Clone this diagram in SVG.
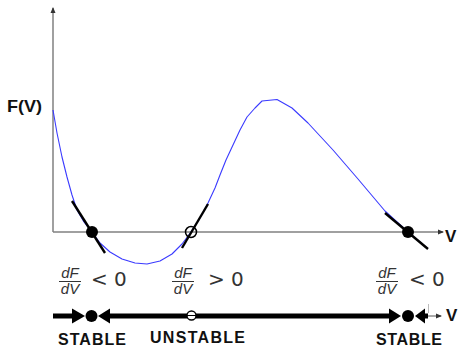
<svg xmlns="http://www.w3.org/2000/svg" width="459" height="347" viewBox="0 0 459 347">
<style>
.axis{stroke:#808080;stroke-width:1.5;fill:none}
.curve{stroke:#3a3aff;stroke-width:1.1;fill:none;stroke-linejoin:round}
.tan{stroke:#000;stroke-width:2.4;fill:none}
.frac{font-family:"Liberation Sans",Arial,sans-serif;font-style:italic;font-size:15px;fill:#333}
.rel{font-family:"DejaVu Sans","Liberation Sans",sans-serif;font-size:20px;fill:#333}
.lbl{font-family:"Liberation Sans",Arial,sans-serif;font-weight:bold;font-size:16px;fill:#111}
.ax{font-family:"Liberation Sans",Arial,sans-serif;font-weight:bold;font-size:17px;fill:#111}
.bar{stroke:#333;stroke-width:1}
.thick{stroke:#000;stroke-width:5;fill:none}
</style>
<defs>
<marker id="axArrow" viewBox="0 0 6 6" refX="5" refY="3" markerWidth="6" markerHeight="6" markerUnits="userSpaceOnUse" orient="auto">
<path d="M0,0.5 L6,3 L0,5.5 z" fill="#333"/>
</marker>
</defs>
<g id="axes">
<line class="axis" x1="53" y1="232" x2="53" y2="8" marker-end="url(#axArrow)"/>
<line class="axis" x1="53" y1="232" x2="443" y2="232" marker-end="url(#axArrow)"/>
<text class="ax" x="7" y="112" font-size="19" textLength="35" lengthAdjust="spacingAndGlyphs">F(V)</text>
<text class="ax" x="445" y="242" font-size="18">V</text>
</g>
<g id="curve">
<path class="curve" d="M53,110 L57,133 L62,157 L67,177 L72,195 L77,210 L84,222 L92,232 L100,243 L110,252 L122,259 L135,263 L147,264 L160,261 L172,254 L182,244 L191,232 L200,218 L208,203 L215,188 L220,175 L226,160 L233,145 L240,130 L247,117 L255,108 L262,101 L277,99.5 L292,108 L308,123 L333,150 L358,179 L385,211 L408,232 L427,248"/>
</g>
<g id="connectors">
<line class="tan" x1="72" y1="201" x2="105" y2="253"/>
<line class="tan" x1="208" y1="204" x2="182" y2="248"/>
<line class="tan" x1="385" y1="213" x2="428" y2="249"/>
</g>
<g id="eq-stable-1">
<circle cx="92" cy="232" r="6" fill="#000"/>
</g>
<g id="eq-unstable">
<circle cx="191" cy="232" r="5.5" fill="none" stroke="#000" stroke-width="1.5"/>
</g>
<g id="eq-stable-2">
<circle cx="408" cy="232" r="6" fill="#000"/>
</g>
<g id="label-1">
<text class="frac" x="70" y="278" text-anchor="middle">dF</text>
<line class="bar" x1="59" y1="281.5" x2="81" y2="281.5"/>
<text class="frac" x="70" y="294" text-anchor="middle">dV</text>
<text class="rel" x="91" y="286">&lt; 0</text>
</g>
<g id="label-2">
<text class="frac" x="183" y="278" text-anchor="middle">dF</text>
<line class="bar" x1="172" y1="281.5" x2="194" y2="281.5"/>
<text class="frac" x="183" y="294" text-anchor="middle">dV</text>
<text class="rel" x="208" y="286">&gt; 0</text>
</g>
<g id="label-3">
<text class="frac" x="387" y="278" text-anchor="middle">dF</text>
<line class="bar" x1="376" y1="281.5" x2="398" y2="281.5"/>
<text class="frac" x="387" y="294" text-anchor="middle">dV</text>
<text class="rel" x="409" y="286">&lt; 0</text>
</g>
<g id="phase-line">
<line class="thick" x1="53" y1="316" x2="74" y2="316"/>
<polygon points="72,308.5 85,316 72,323.5" fill="#000"/>
<circle cx="91.5" cy="316" r="6" fill="#000"/>
<polygon points="98,316 110,308.5 110,323.5" fill="#000"/>
<line class="thick" x1="108" y1="316" x2="391" y2="316"/>
<polygon points="389,308.5 401,316 389,323.5" fill="#000"/>
<circle cx="408" cy="316" r="6" fill="#000"/>
<polygon points="415,316 425,308.5 425,323.5" fill="#000"/>
<line class="thick" x1="424" y1="316" x2="428" y2="316"/>
<line x1="428.5" y1="304" x2="428.5" y2="313" stroke="#bbb" stroke-width="1"/>
<line x1="428" y1="316" x2="441" y2="316" stroke="#555" stroke-width="1" marker-end="url(#axArrow)"/>
<text class="ax" x="446" y="321" font-size="18">V</text>
</g>
<g id="eq-unstable-phase">
<circle cx="191.5" cy="315.5" r="4.5" fill="#fff" stroke="#000" stroke-width="1.3"/>
<line x1="187" y1="315.5" x2="196" y2="315.5" stroke="#000" stroke-width="1"/>
</g>
<g id="labels">
<text class="lbl" x="58" y="345" textLength="68">STABLE</text>
<text class="lbl" x="150" y="343" textLength="95">UNSTABLE</text>
<text class="lbl" x="376" y="345" textLength="66">STABLE</text>
</g>
</svg>
